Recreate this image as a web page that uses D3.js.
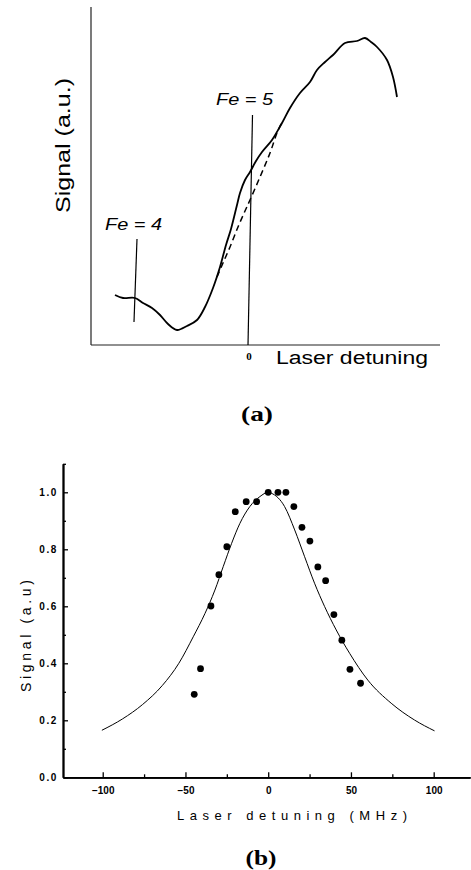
<!DOCTYPE html>
<html>
<head>
<meta charset="utf-8">
<script src="https://cdn.jsdelivr.net/npm/d3@7"></script>
<style>
  html, body { margin: 0; padding: 0; background: #fff; }
  svg { display: block; }
  text { font-family: "Liberation Sans", Arial, sans-serif; fill: #000; }
</style>
</head>
<body>
<svg id="chart" width="471" height="870"></svg>
<script>
// ---------- Panel (a): measured signal vs laser detuning (arbitrary units) ----------
const aDetuning = [-1.33,-1.25,-1.13,-1.05,-0.96,-0.88,-0.80,-0.71,-0.61,-0.51,-0.43,-0.35,-0.28,-0.22,-0.17,-0.11,-0.08,-0.03,0.02,0.08,0.14,0.24,0.34,0.42,0.52,0.62,0.69,0.77,0.85,0.97,1.09,1.17,1.23,1.29,1.39,1.45,1.49];
const aSignal    = [0.50,0.47,0.47,0.42,0.37,0.30,0.21,0.15,0.19,0.25,0.38,0.57,0.78,1.00,1.16,1.40,1.52,1.65,1.73,1.84,1.93,2.05,2.22,2.37,2.52,2.63,2.75,2.83,2.90,3.02,3.04,3.07,3.03,2.98,2.85,2.68,2.48];
// dashed background line
const aDashDetuning = [-0.31,-0.25,-0.18,-0.10,-0.03,0.02,0.12,0.22,0.29,0.35];
const aDashSignal   = [0.68,0.82,0.98,1.18,1.34,1.45,1.68,1.92,2.12,2.25];
// hyperfine markers: [bottom, top]
const aMarkerLabels = ["Fe = 4", "Fe = 5"];
const aMarkerDet    = [[-1.14, -1.11], [0.0, 0.045]];
const aMarkerSig    = [[0.23, 1.06], [0.0, 2.30]];

// ---------- Panel (b): signal vs detuning in MHz ----------
const bPointsX = [-44.7,-40.9,-34.6,-29.8,-25.0,-19.9,-13.3,-7.0,0.0,5.9,10.7,15.5,20.4,25.2,30.0,34.7,39.7,44.5,49.4,55.8];
const bPointsY = [0.291,0.381,0.601,0.711,0.809,0.932,0.967,0.967,1.0,1.0,1.0,0.95,0.877,0.829,0.738,0.69,0.571,0.481,0.379,0.33];
// fitted curve
const bFitX = [-100.5,-88,-76,-64,-54,-45.3,-38.2,-32.2,-27.2,-22.1,-17.1,-11.1,-5.0,0,1.8,9.9,16.0,22.0,28.0,34.1,41.1,49.2,60.2,74.3,88.4,100.5];
const bFitY = [0.165,0.205,0.255,0.322,0.40,0.493,0.575,0.657,0.739,0.821,0.891,0.95,0.985,1.0,0.997,0.95,0.868,0.774,0.681,0.599,0.517,0.435,0.341,0.26,0.201,0.163];
const bXTicks = [-100, -50, 0, 50, 100];
const bXMinor = [-75, -25, 25, 75];
const bYTicks = [0.0, 0.2, 0.4, 0.6, 0.8, 1.0];
const bYMinor = [0.1, 0.3, 0.5, 0.7, 0.9, 1.1];

const svg = d3.select("#chart");
svg.append("rect").attr("width", 471).attr("height", 870).attr("fill", "#fff");

// ===== Panel (a) =====
const xa = d3.scaleLinear().domain([-1.57, 1.92]).range([91, 440]);
const ya = d3.scaleLinear().domain([0, 3.38]).range([345, 7]);
const ga = svg.append("g");

ga.append("line").attr("x1", xa(-1.57)).attr("x2", xa(-1.57)).attr("y1", ya(0)).attr("y2", ya(3.38))
  .attr("stroke", "#222").attr("stroke-width", 1.2);
ga.append("line").attr("x1", xa(-1.57)).attr("x2", xa(1.92)).attr("y1", ya(0)).attr("y2", ya(0))
  .attr("stroke", "#222").attr("stroke-width", 1.2);

const lineA = d3.line().x(d => xa(d[0])).y(d => ya(d[1])).curve(d3.curveCatmullRom);
ga.append("path").datum(d3.zip(aDetuning, aSignal)).attr("d", lineA)
  .attr("fill", "none").attr("stroke", "#000").attr("stroke-width", 1.8);
ga.append("path").datum(d3.zip(aDashDetuning, aDashSignal)).attr("d", lineA)
  .attr("fill", "none").attr("stroke", "#000").attr("stroke-width", 1.5).attr("stroke-dasharray", "6,4");

aMarkerLabels.forEach((lab, i) => {
  ga.append("line")
    .attr("x1", xa(aMarkerDet[i][0])).attr("y1", ya(aMarkerSig[i][0]))
    .attr("x2", xa(aMarkerDet[i][1])).attr("y2", ya(aMarkerSig[i][1]))
    .attr("stroke", "#000").attr("stroke-width", 1.2);
});
ga.append("text").attr("x", 105).attr("y", 230).attr("font-size", 16).attr("font-style", "italic")
  .attr("textLength", 57).attr("lengthAdjust", "spacingAndGlyphs").text(aMarkerLabels[0]);
ga.append("text").attr("x", 216).attr("y", 105).attr("font-size", 16).attr("font-style", "italic")
  .attr("textLength", 57).attr("lengthAdjust", "spacingAndGlyphs").text(aMarkerLabels[1]);

ga.append("text").attr("x", xa(0) + 1).attr("y", 360).attr("text-anchor", "middle")
  .attr("font-size", 11).attr("font-weight", "bold").style("font-family", "'Liberation Serif', serif").text("0");
ga.append("text").attr("x", 276).attr("y", 364).attr("font-size", 18)
  .attr("textLength", 152).attr("lengthAdjust", "spacingAndGlyphs").text("Laser detuning");
ga.append("text").attr("transform", "translate(70,145.5) rotate(-90)").attr("text-anchor", "middle")
  .attr("font-size", 20).attr("textLength", 135).attr("lengthAdjust", "spacingAndGlyphs").text("Signal (a.u.)");
ga.append("text").attr("x", 257).attr("y", 421).attr("text-anchor", "middle").attr("font-size", 21)
  .attr("font-weight", "bold").style("font-family", "'Liberation Serif', serif")
  .attr("textLength", 32).attr("lengthAdjust", "spacingAndGlyphs").text("(a)");

// ===== Panel (b) =====
const xb = d3.scaleLinear().domain([-124, 122]).range([63, 470.1]);
const yb = d3.scaleLinear().domain([0, 1.1]).range([777.3, 463.8]);
const gb = svg.append("g");

const yAxis = d3.axisLeft(yb).tickValues(bYTicks).tickFormat(d3.format(".1f"))
  .tickSize(-5).tickSizeOuter(0).tickPadding(5);
const yMinor = d3.axisLeft(yb).tickValues(bYMinor).tickFormat("").tickSize(-3).tickSizeOuter(0);
const xAxis = d3.axisBottom(xb).tickValues(bXTicks).tickFormat(d3.format("d"))
  .tickSize(-5).tickSizeOuter(0).tickPadding(10);
const xMinor = d3.axisBottom(xb).tickValues(bXMinor).tickFormat("").tickSize(-3).tickSizeOuter(0);

function styleAxis(g) {
  g.select(".domain").attr("stroke", "#000").attr("stroke-width", 1.8);
  g.selectAll(".tick line").attr("stroke", "#000").attr("stroke-width", 1.3);
  g.selectAll(".tick text").attr("font-size", 10).attr("font-weight", "bold")
    .style("font-family", "'Liberation Sans', Arial, sans-serif").attr("fill", "#000");
}
gb.append("g").attr("transform", "translate(63,0)").call(yMinor).call(styleAxis);
gb.append("g").attr("transform", "translate(63,0)").call(yAxis).call(styleAxis)
  .selectAll(".tick text").attr("letter-spacing", "1.6px");
gb.append("g").attr("transform", "translate(0,777.3)").call(xMinor).call(styleAxis);
gb.append("g").attr("transform", "translate(0,777.3)").call(xAxis).call(styleAxis);

const lineB = d3.line().x(d => xb(d[0])).y(d => yb(d[1])).curve(d3.curveMonotoneX);
gb.append("path").datum(d3.zip(bFitX, bFitY)).attr("d", lineB)
  .attr("fill", "none").attr("stroke", "#000").attr("stroke-width", 1);
gb.selectAll("circle.pt").data(d3.zip(bPointsX, bPointsY)).enter().append("circle")
  .attr("class", "pt").attr("cx", d => xb(d[0])).attr("cy", d => yb(d[1])).attr("r", 3.4).attr("fill", "#000");

gb.append("text").attr("x", 292).attr("y", 820).attr("text-anchor", "middle").attr("font-size", 13)
  .attr("textLength", 230).attr("lengthAdjust", "spacing").text("Laser detuning (MHz)");
gb.append("text").attr("transform", "translate(31,636) rotate(-90)").attr("text-anchor", "middle")
  .attr("font-size", 14).attr("textLength", 112).attr("lengthAdjust", "spacing").text("Signal (a.u)");
gb.append("text").attr("x", 261).attr("y", 865).attr("text-anchor", "middle").attr("font-size", 21)
  .attr("font-weight", "bold").style("font-family", "'Liberation Serif', serif")
  .attr("textLength", 31).attr("lengthAdjust", "spacingAndGlyphs").text("(b)");
</script>
</body>
</html>
